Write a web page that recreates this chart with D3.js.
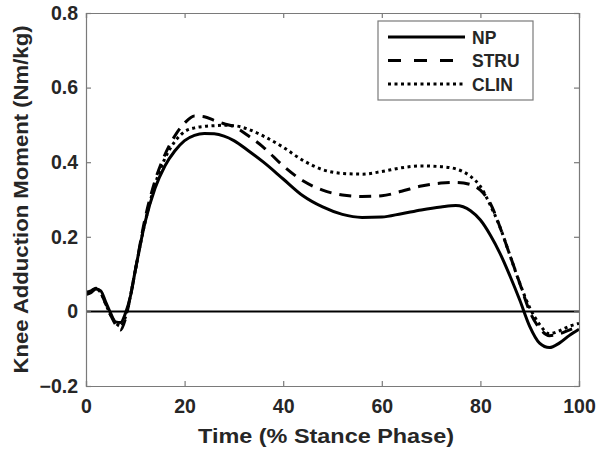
<!DOCTYPE html>
<html>
<head>
<meta charset="utf-8">
<script src="https://cdn.jsdelivr.net/npm/d3@7"></script>
<style>
  body { margin: 0; background: #fff; }
  svg { display: block; font-family: "Liberation Sans", Arial, Helvetica, sans-serif; font-weight: bold; }
</style>
</head>
<body>
<svg id="chart" width="598" height="452"></svg>
<script>
const time = [0,1,2,3,4,5,6,7,8,9,10,12,14,16,18,20,22,24,26,28,30,33,36,40,44,48,52,56,60,64,68,72,75,78,80,82,84,86,88,90,92,94,96,98,100];
const npValues = [0.045,0.05,0.06,0.055,0.025,-0.005,-0.028,-0.03,-0.005,0.04,0.11,0.24,0.33,0.39,0.43,0.458,0.472,0.477,0.476,0.47,0.458,0.43,0.4,0.355,0.31,0.28,0.26,0.252,0.253,0.262,0.272,0.28,0.284,0.27,0.245,0.205,0.155,0.095,0.03,-0.04,-0.085,-0.097,-0.085,-0.065,-0.048];
const struValues = [0.05,0.055,0.062,0.05,0.02,-0.01,-0.035,-0.05,-0.02,0.04,0.11,0.25,0.35,0.42,0.47,0.505,0.524,0.522,0.512,0.503,0.495,0.47,0.44,0.39,0.35,0.325,0.312,0.308,0.31,0.322,0.336,0.344,0.346,0.34,0.325,0.29,0.225,0.15,0.075,0.0,-0.045,-0.065,-0.06,-0.05,-0.04];
const clinValues = [0.05,0.055,0.06,0.05,0.02,-0.01,-0.03,-0.04,-0.015,0.04,0.11,0.24,0.34,0.41,0.455,0.482,0.492,0.496,0.498,0.499,0.498,0.488,0.47,0.44,0.405,0.38,0.37,0.368,0.375,0.385,0.39,0.388,0.382,0.362,0.335,0.285,0.225,0.15,0.075,0.01,-0.035,-0.06,-0.052,-0.04,-0.032];
const seriesNames = ["NP","STRU","CLIN"];
const xTicks = [0,20,40,60,80,100];
const yTicks = [-0.2,0,0.2,0.4,0.6,0.8];
const xLabel = "Time (% Stance Phase)";
const yLabel = "Knee Adduction Moment (Nm/kg)";

const svg = d3.select("#chart");
const L = 86, R = 579, T = 13, B = 386;
const x = d3.scaleLinear().domain([0,100]).range([L,R]);
const y = d3.scaleLinear().domain([-0.2,0.8]).range([B,T]);
const axisColor = "#7a7a7a";
const textColor = "#262626";

// zero line
svg.append("line").attr("x1", x(0)).attr("x2", x(100)).attr("y1", y(0)).attr("y2", y(0))
  .attr("stroke", "#000").attr("stroke-width", 2);

const series = [
  {name: seriesNames[0], values: npValues, dash: null},
  {name: seriesNames[1], values: struValues, dash: "12,8"},
  {name: seriesNames[2], values: clinValues, dash: "3,3.5"}
];
const line = d3.line().x((d,i) => x(time[i])).y(d => y(d)).curve(d3.curveMonotoneX);
svg.append("clipPath").attr("id","clip").append("rect")
  .attr("x", L).attr("y", T).attr("width", R-L).attr("height", B-T);
series.forEach(s => {
  svg.append("path").datum(s.values).attr("d", line)
    .attr("fill","none").attr("stroke","#000").attr("stroke-width",3)
    .attr("stroke-dasharray", s.dash).attr("clip-path","url(#clip)");
});

// axes
const fs = 19.5;
const gx = svg.append("g").attr("transform", `translate(0,${B})`)
  .call(d3.axisBottom(x).tickValues(xTicks).tickSize(-5).tickPadding(13).tickFormat(d3.format("d")));
const gy = svg.append("g").attr("transform", `translate(${L},0)`)
  .call(d3.axisLeft(y).tickValues(yTicks).tickSize(-5).tickPadding(8).tickFormat(d => d === 0 ? "0" : d3.format(".1f")(d)));
const gx2 = svg.append("g").attr("transform", `translate(0,${T})`)
  .call(d3.axisTop(x).tickValues(xTicks).tickSize(-5).tickFormat(""));
const gy2 = svg.append("g").attr("transform", `translate(${R},0)`)
  .call(d3.axisRight(y).tickValues(yTicks).tickSize(-5).tickFormat(""));
[gx,gy,gx2,gy2].forEach(g => {
  g.select(".domain").attr("stroke", axisColor).attr("stroke-width", 1.2);
  g.selectAll(".tick line").attr("stroke", axisColor).attr("stroke-width", 1.2);
  g.selectAll(".tick text").attr("fill", textColor).attr("font-size", fs)
    .attr("font-family", "'Liberation Sans', Arial, sans-serif").attr("font-weight","bold");
});

// axis labels
svg.append("text").attr("x", 326).attr("y", 443).attr("text-anchor","middle")
  .attr("font-size", 21).attr("textLength", 256).attr("lengthAdjust","spacingAndGlyphs")
  .attr("fill", textColor).text(xLabel);
svg.append("text").attr("transform", `translate(28,${(T+B)/2}) rotate(-90)`).attr("text-anchor","middle")
  .attr("font-size", 21).attr("textLength", 348).attr("lengthAdjust","spacingAndGlyphs")
  .attr("fill", textColor).text(yLabel);

// legend
const lg = svg.append("g");
lg.append("rect").attr("x", 378).attr("y", 21).attr("width", 155).attr("height", 79)
  .attr("fill","#fff").attr("stroke", axisColor).attr("stroke-width", 1.2);
series.forEach((s,i) => {
  const ry = 37 + i*23.5;
  lg.append("line").attr("x1", 388).attr("x2", 465).attr("y1", ry).attr("y2", ry)
    .attr("stroke","#000").attr("stroke-width",3).attr("stroke-dasharray", s.dash ? (i === 1 ? "13,13" : s.dash) : null);
  lg.append("text").attr("x", 472).attr("y", ry + 6.5).attr("font-size", 17.5)
    .attr("fill", textColor).text(s.name);
});
</script>
</body>
</html>
